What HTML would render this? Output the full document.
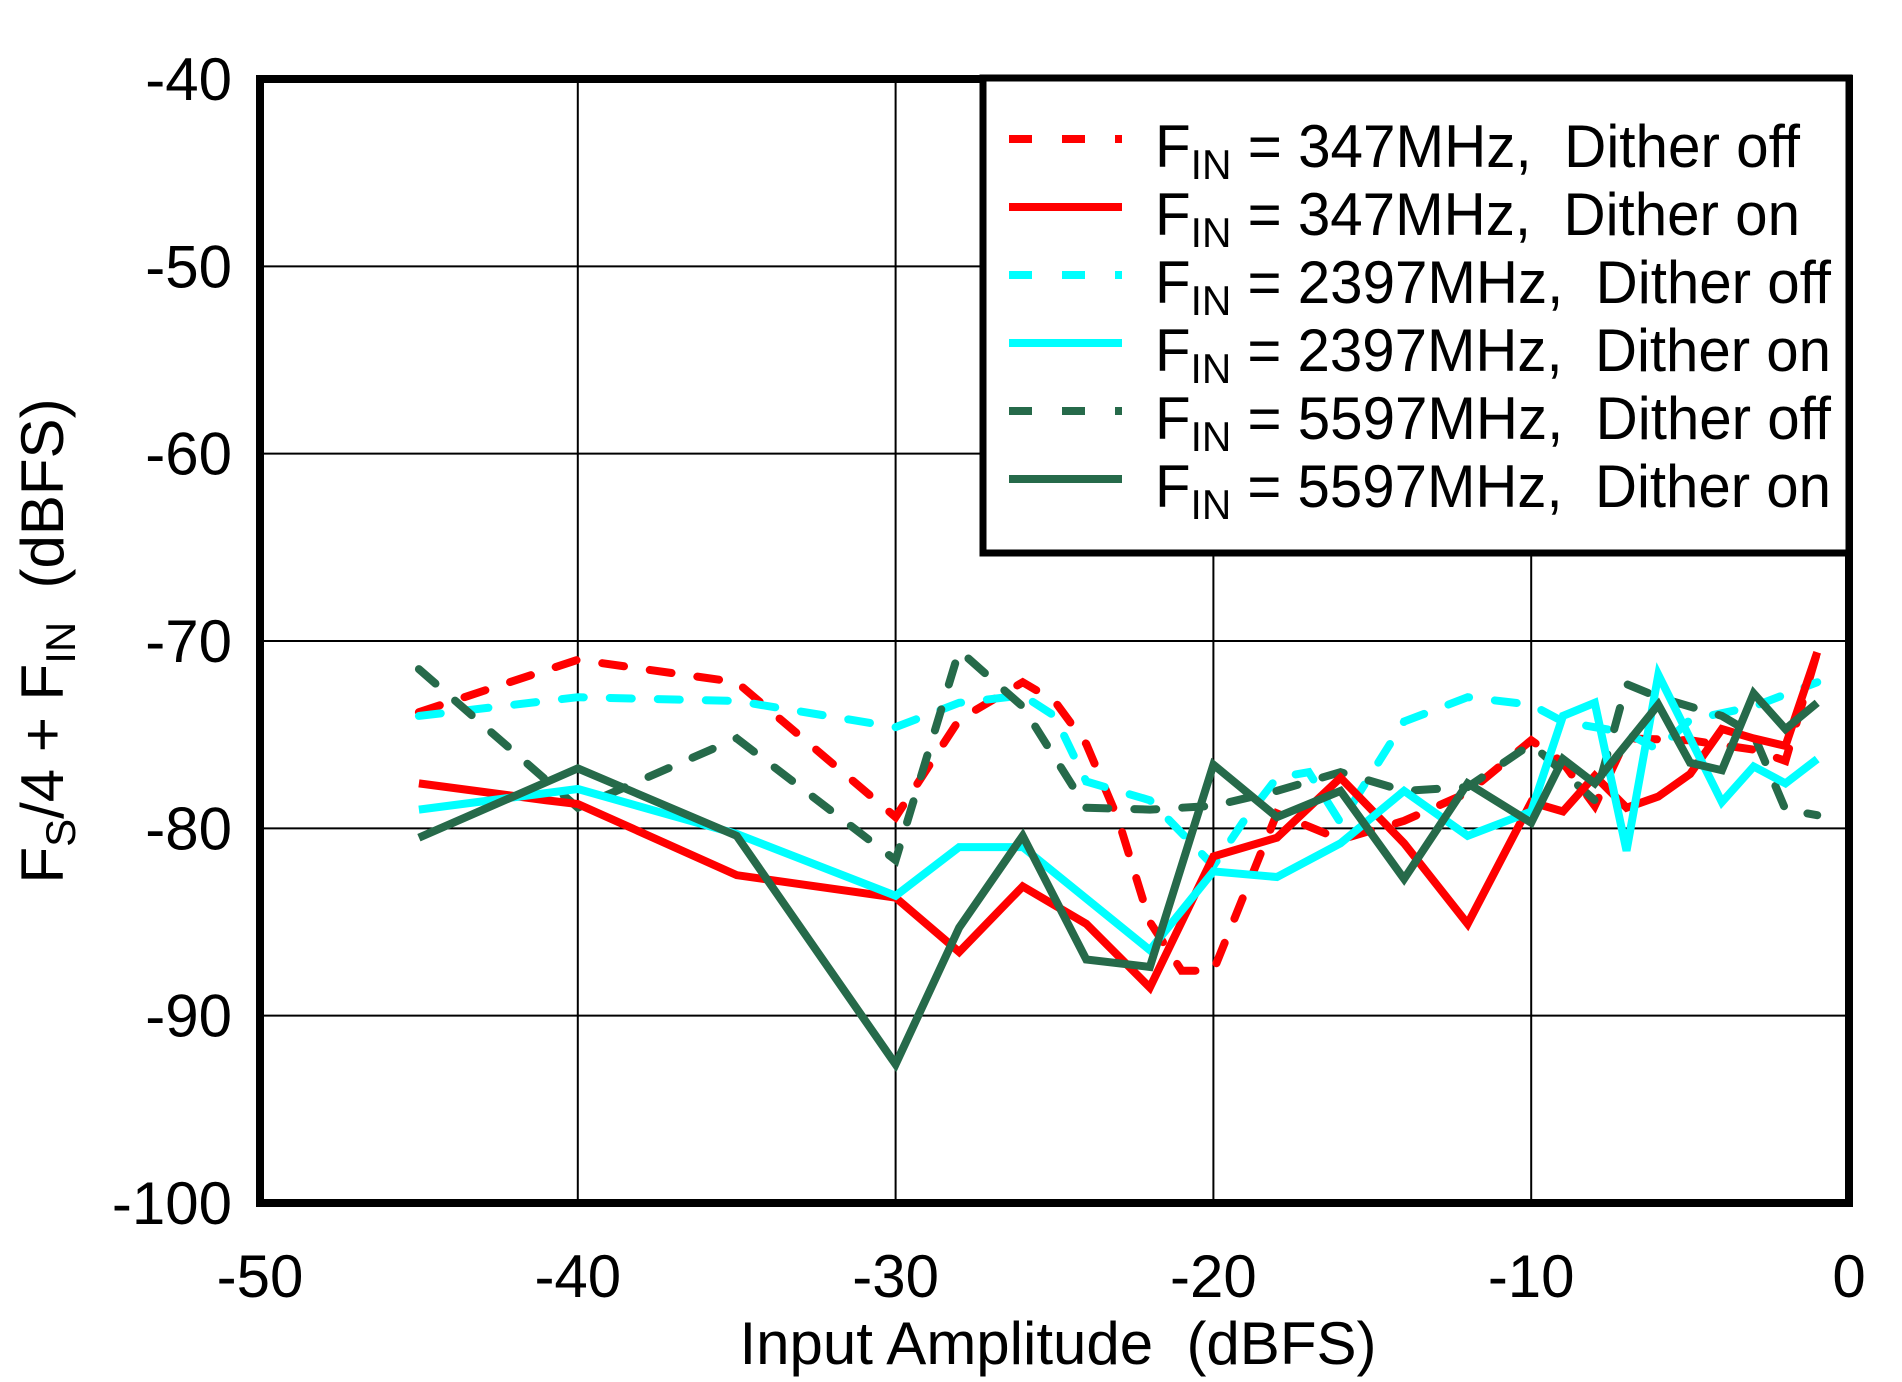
<!DOCTYPE html>
<html><head><meta charset="utf-8"><style>
html,body{margin:0;padding:0;background:#fff;}
svg{display:block;font-family:"Liberation Sans",Arial,sans-serif;}
</style></head><body>
<svg id="chart" width="1902" height="1382" viewBox="0 0 1902 1382" xmlns="http://www.w3.org/2000/svg">
<g id="grid"></g>
<g id="series"></g>
<rect x="260" y="79" width="1589" height="1124" fill="none" stroke="#000" stroke-width="8"/>
<g id="ticks" font-size="60"></g>
<text x="1058" y="1364" font-size="60" text-anchor="middle" xml:space="preserve">Input Amplitude  (dBFS)</text>
<text transform="translate(63,641) rotate(-90)" font-size="60" text-anchor="middle" xml:space="preserve">F<tspan font-size="42" dy="12">S</tspan><tspan dy="-12">/4 + F</tspan><tspan font-size="42" dy="12">IN</tspan><tspan dy="-12">  (dBFS)</tspan></text>
<g id="legend">
<rect x="983" y="78" width="866" height="475" fill="#fff" stroke="#000" stroke-width="7"/>
</g>
</svg>
<script>
const xTicks=[-50,-40,-30,-20,-10,0];
const yTicks=[-40,-50,-60,-70,-80,-90,-100];
const xRedOn=[-45,-41,-40,-35,-30,-28,-26,-24,-22,-20,-18,-16,-14,-12,-10,-9,-8,-7,-6,-5,-4,-3,-2,-1];
const yRedOn=[-77.6,-78.5,-78.7,-82.5,-83.7,-86.6,-83.1,-85.1,-88.5,-81.5,-80.5,-77.3,-80.8,-85.1,-78.6,-79.1,-77.2,-78.9,-78.3,-77.1,-74.7,-75.2,-75.6,-70.6];
const xCyanOn=[-45,-40,-35,-30,-28,-26,-22,-20,-18,-16,-14,-12,-10,-9,-8,-7,-6,-4,-3,-2,-1];
const yCyanOn=[-79.0,-77.9,-80.3,-83.6,-81.0,-81.0,-86.5,-82.3,-82.6,-80.8,-78.0,-80.4,-79.1,-74.0,-73.3,-81.2,-71.8,-78.6,-76.7,-77.6,-76.3];
const xGreenOn=[-45,-40,-35,-30,-28,-26,-24,-22,-20,-18,-16,-14,-12,-10,-9,-8,-6,-5,-4,-3,-2,-1];
const yGreenOn=[-80.5,-76.8,-80.4,-92.6,-85.3,-80.4,-87.0,-87.4,-76.6,-79.4,-78.0,-82.7,-77.6,-79.7,-76.3,-77.6,-73.4,-76.5,-76.9,-72.8,-74.7,-73.3];
const xRedOff=[-45,-40,-35,-30,-28,-26,-25,-24,-23,-22,-21,-20,-18,-16,-14,-12,-10,-9,-8,-7,-5,-3,-2,-1];
const yRedOff=[-73.8,-71.0,-72.2,-79.4,-74.2,-72.2,-73.2,-75.5,-79.5,-85.0,-87.6,-87.6,-79.2,-80.6,-79.6,-78.1,-75.3,-76.5,-78.8,-75.2,-75.3,-75.8,-76.4,-70.6];
const xCyanOff=[-45,-40,-35,-30,-28,-26,-25,-24,-22,-20,-19,-18,-17,-16,-15,-14,-12,-10,-9,-7,-6,-5,-3,-1];
const yCyanOff=[-74.0,-73.0,-73.2,-74.6,-73.3,-72.9,-74.0,-77.5,-78.5,-82.0,-79.5,-77.3,-77.0,-79.7,-77.0,-74.3,-73.0,-73.4,-74.3,-74.9,-75.8,-74.2,-73.5,-72.2];
const xGreenOff=[-45,-40,-35,-30,-28,-26,-24,-22,-20,-18,-16,-14,-12,-10,-9,-8,-7,-6,-4,-3,-2,-1];
const yGreenOff=[-71.5,-78.9,-75.2,-81.7,-70.5,-73.5,-78.9,-79.0,-78.8,-78.0,-77.0,-78.0,-77.8,-75.5,-77.0,-78.5,-72.3,-73.0,-74.0,-75.0,-79.0,-79.3];
const legendLabels=["347MHz,  Dither off","347MHz,  Dither on","2397MHz,  Dither off","2397MHz,  Dither on","5597MHz,  Dither off","5597MHz,  Dither on"];

const NS="http://www.w3.org/2000/svg";
const X0=260,X1=1849,Y0=79,Y1=1203;
const xs=v=>X0+(v+50)/50*(X1-X0);
const ys=v=>Y0+(-40-v)/60*(Y1-Y0);
const gridG=document.getElementById('grid');
const ticksG=document.getElementById('ticks');
xTicks.forEach(t=>{
  const l=document.createElementNS(NS,'line');
  
  
  l.setAttribute('x1',xs(t));l.setAttribute('x2',xs(t));l.setAttribute('y1',Y0);l.setAttribute('y2',Y1);
  l.setAttribute('stroke','#000');l.setAttribute('stroke-width','2');
  gridG.appendChild(l);
  const tx=document.createElementNS(NS,'text');
  
  
  tx.setAttribute('x',xs(t));tx.setAttribute('y',1297);tx.setAttribute('text-anchor','middle');
  tx.textContent=t;ticksG.appendChild(tx);
});
yTicks.forEach(t=>{
  const l=document.createElementNS(NS,'line');
  
  
  l.setAttribute('x1',X0);l.setAttribute('x2',X1);l.setAttribute('y1',ys(t));l.setAttribute('y2',ys(t));
  l.setAttribute('stroke','#000');l.setAttribute('stroke-width','2');
  gridG.appendChild(l);
  const tx=document.createElementNS(NS,'text');
  
  
  tx.setAttribute('x',232);tx.setAttribute('y',ys(t)+21);tx.setAttribute('text-anchor','end');
  tx.textContent=t;ticksG.appendChild(tx);
});
const seriesG=document.getElementById('series');
const seriesDefs=[
 [xRedOff,yRedOff,'#ff0000',true,'series-347-dither-off'],
 [xCyanOff,yCyanOff,'#00ffff',true,'series-2397-dither-off'],
 [xGreenOff,yGreenOff,'#266a4a',true,'series-5597-dither-off'],
 [xRedOn,yRedOn,'#ff0000',false,'series-347-dither-on'],
 [xCyanOn,yCyanOn,'#00ffff',false,'series-2397-dither-on'],
 [xGreenOn,yGreenOn,'#266a4a',false,'series-5597-dither-on']
];
seriesDefs.forEach(d=>{
  const p=document.createElementNS(NS,'polyline');
  
  
  p.setAttribute('points',d[0].map((x,i)=>xs(x)+','+ys(d[1][i])).join(' '));
  p.setAttribute('fill','none');p.setAttribute('stroke',d[2]);p.setAttribute('stroke-width','8');
  if(d[3]){p.setAttribute('stroke-dasharray','22 26');p.setAttribute('stroke-linecap','round');}
  seriesG.appendChild(p);
});
const legendG=document.getElementById('legend');
const legOrder=[0,3,1,4,2,5];
legOrder.forEach((si,i)=>{
  const d=seriesDefs[si];
  const by=167+i*68;
  const l=document.createElementNS(NS,'line');
  
  
  l.setAttribute('x1',1009);l.setAttribute('x2',1122);l.setAttribute('y1',by-28);l.setAttribute('y2',by-28);
  l.setAttribute('stroke',d[2]);l.setAttribute('stroke-width','8');
  if(d[3])l.setAttribute('stroke-dasharray','23 30');
  legendG.appendChild(l);
  const t=document.createElementNS(NS,'text');
  
  
  t.setAttribute('x',1155);t.setAttribute('y',by);t.setAttribute('font-size','60');
  t.setAttribute('textLength', i<2 ? 645 : 676);
  t.setAttribute('lengthAdjust','spacingAndGlyphs');
  t.style.whiteSpace='pre';
  t.innerHTML='F<tspan font-size="42" dy="12">IN</tspan><tspan dy="-12"> = '+legendLabels[i]+'</tspan>';
  legendG.appendChild(t);
});
</script>
</body></html>
